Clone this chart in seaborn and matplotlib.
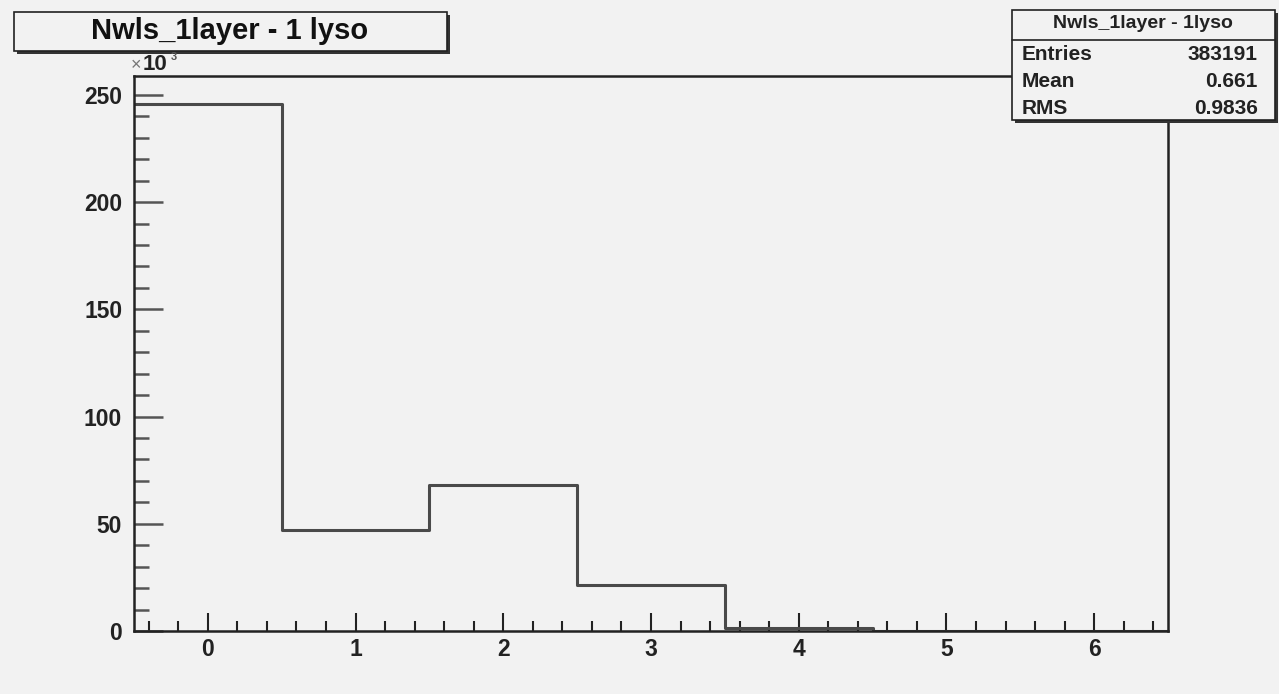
import numpy as np
import seaborn as sns
import matplotlib.pyplot as plt
from matplotlib.patches import Rectangle
from matplotlib.ticker import MultipleLocator

# histogram contents, in units of 10^3 entries
bin_centers = [0, 1, 2, 3, 4, 5, 6]
bin_counts = [245.8, 47.0, 68.0, 21.4, 1.4, 0.0, 0.0]
bin_edges = [-0.5, 0.5, 1.5, 2.5, 3.5, 4.5, 5.5, 6.5]

hist_title = "Nwls_1layer - 1 lyso"
stats_title = "Nwls_1layer - 1lyso"
stats_names = ["Entries", "Mean", "RMS"]
stats_values = ["383191", "0.661", "0.9836"]

W, H = 1279, 694
bg = "#f2f2f2"

sns.set_theme(style="ticks")
plt.rcParams["font.family"] = ["Liberation Sans", "DejaVu Sans"]
plt.rcParams["font.weight"] = "bold"

fig = plt.figure(figsize=(W / 100, H / 100), dpi=100, facecolor=bg)


def fx(px):
    return px / W


def fy(py):
    return 1 - py / H


# frame in pixels: left 134, right 1168, top 76, bottom 631
ax = fig.add_axes([fx(134), fy(631), fx(1168) - fx(134), fy(76) - fy(631)])
ax.set_facecolor(bg)

sns.histplot(x=bin_centers, weights=bin_counts, bins=bin_edges,
             element="step", fill=False, color="#4a4a4a", linewidth=2.2, ax=ax)

ax.set_xlim(-0.5, 6.5)
ax.set_ylim(0, 258.8)
ax.set_xlabel("")
ax.set_ylabel("")

for s in ax.spines.values():
    s.set_color("#222222")
    s.set_linewidth(1.8)

ax.xaxis.set_major_locator(MultipleLocator(1))
ax.xaxis.set_minor_locator(MultipleLocator(0.2))
ax.yaxis.set_major_locator(MultipleLocator(50))
ax.yaxis.set_minor_locator(MultipleLocator(10))
ax.tick_params(axis="x", which="major", direction="in", length=13, width=1.5,
               color="#222222", labelsize=16.5, pad=5)
ax.tick_params(axis="x", which="minor", direction="in", length=7, width=1.5,
               color="#222222")
ax.tick_params(axis="y", which="major", direction="in", length=21, width=1.8,
               color="#555555", labelsize=16.5, pad=8.5)
ax.tick_params(axis="y", which="minor", direction="in", length=11, width=1.8,
               color="#555555")
for lab in ax.get_xticklabels() + ax.get_yticklabels():
    lab.set_fontweight("bold")
    lab.set_color("#222222")

# x10^3 multiplier
fig.text(fx(131), fy(66), "×", fontsize=13, color="#777777", va="center", ha="left",
         fontweight="normal")
fig.text(fx(143), fy(65), "10", fontsize=16, color="#222222", va="center", ha="left",
         fontweight="bold")
fig.text(fx(171), fy(57), "3", fontsize=8, color="#555555", va="center", ha="left")

# title box with shadow
fig.patches.append(Rectangle((fx(17), fy(54)), fx(447) - fx(14), fy(12) - fy(51),
                             transform=fig.transFigure, facecolor="#333333",
                             edgecolor="none", zorder=1))
fig.patches.append(Rectangle((fx(14), fy(51)), fx(447) - fx(14), fy(12) - fy(51),
                             transform=fig.transFigure, facecolor=bg,
                             edgecolor="#222222", linewidth=1.2, zorder=2))
fig.text(fx(230), fy(31), hist_title, fontsize=21, fontweight="bold",
         ha="center", va="center", color="#111111", zorder=3)

# stats box with shadow
fig.patches.append(Rectangle((fx(1015), fy(123)), fx(1275) - fx(1012), fy(10) - fy(120),
                             transform=fig.transFigure, facecolor="#333333",
                             edgecolor="none", zorder=1))
fig.patches.append(Rectangle((fx(1012), fy(120)), fx(1275) - fx(1012), fy(10) - fy(120),
                             transform=fig.transFigure, facecolor=bg,
                             edgecolor="#222222", linewidth=1.2, zorder=2))
fig.lines.append(plt.Line2D([fx(1012), fx(1275)], [fy(40), fy(40)],
                            transform=fig.transFigure, color="#222222", linewidth=1.2,
                            zorder=3))
fig.text(fx(1143), fy(24), stats_title, fontsize=14, fontweight="bold",
         ha="center", va="center", color="#222222", zorder=3)
for i, (name, val) in enumerate(zip(stats_names, stats_values)):
    ypix = 54 + i * 27.5
    fig.text(fx(1022), fy(ypix), name, fontsize=15, fontweight="bold",
             ha="left", va="center", color="#222222", zorder=3)
    fig.text(fx(1258), fy(ypix), val, fontsize=15, fontweight="bold",
             ha="right", va="center", color="#222222", zorder=3)

plt.savefig("out.png", dpi=100, facecolor=bg)
